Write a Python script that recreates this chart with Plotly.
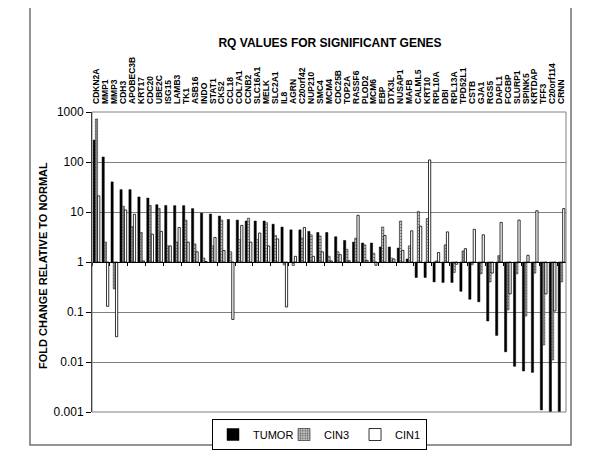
import plotly.graph_objects as go

genes = ["CDKN2A", "MMP1", "MMP3", "CDH3", "APOBEC3B", "KRT17", "CDC20", "UBE2C", "ISG15", "LAMB3",
         "TK1", "ASB16", "INDO", "STAT1", "CKS2", "CCL18", "COL7A1", "CCNB2", "SLC16A1", "MELK",
         "SLC2A1", "IL8", "AGRN", "C20orf42", "NUP210", "SMC4", "MCM4", "CDC25B", "TOP2A", "RASSF6",
         "PLOD2", "MCM6", "EBP", "DTX3L", "NUSAP1", "MAFB", "CALML5", "KRT10", "RPL10A", "DBI",
         "RPL13A", "TPD52L1", "CSTB", "GJA1", "RGS5", "DAPL1", "FCGBP", "SLURP1", "SPINK5", "KRTDAP",
         "TFF3", "C20orf114", "CRNN"]

tumor = [275, 126, 40, 28, 28, 20, 19, 14, 13.5, 13.4,
         13.4, 11.7, 9.5, 9.1, 8.3, 7.1, 6.9, 6.6, 6.6, 6.6,
         5.7, 5.0, 4.4, 4.4, 4.1, 3.9, 3.9, 3.2, 2.7, 2.5,
         2.4, 2.4, 2.0, 2.0, 1.9, 1.15, 0.49, 0.49, 0.40, 0.39,
         0.39, 0.26, 0.18, 0.16, 0.066, 0.034, 0.016, 0.0082, 0.0066, 0.0062,
         0.0011, 0.00098, 0.00098]

cin3 = [725, 2.5, 0.29, 13, 5.1, 3.9, 13.5, 11.8, 2.1, 2.5,
        6.9, 2.3, 1.2, 2.1, 6.9, 1.6, 2.8, 7.5, 2.8, 6.1,
        3.4, 0.87, 0.85, 3.0, 3.5, 3.3, 1.3, 1.6, 1.8, 3.0,
        2.2, 1.5, 5.0, 1.2, 6.6, 2.1, 10.3, 7.4, 1.05, 2.2,
        0.62, 1.66, 0.88, 0.58, 0.4, 1.34, 0.11, 0.58, 0.083, 0.6,
        0.022, 0.011, 0.4]

cin1 = [21, 0.13, 0.032, 11, 9, 1.05, 3.6, 4.1, 2.1, 4.9,
        2.5, 1.6, 1.02, 3.1, 1.7, 0.071, 5.4, 2.5, 3.8, 2.1,
        2.9, 0.126, 1.3, 4.9, 1.3, 1.6, 1.05, 1.4, 1.06, 8.6,
        1.08, 0.86, 3.4, 1.15, 1.7, 4.2, 5.2, 110, 1.55, 4.0,
        0.9, 1.85, 4.5, 3.5, 0.6, 6.2, 0.23, 6.9, 1.36, 10.6,
        0.23, 0.105, 11.7]

series_names = ["TUMOR", "CIN3", "CIN1"]
tick_vals = [0.001, 0.01, 0.1, 1, 10, 100, 1000]
tick_text = ["0.001", "0.01", "0.1", "1", "10", "100", "1000"]
baseline = 1

FONT = "Liberation Sans, Arial, sans-serif"

def rel(vals):
    return [v - baseline for v in vals]

fig = go.Figure()
fig.add_trace(go.Bar(name=series_names[0], x=genes, y=rel(tumor), base=[baseline] * len(genes),
                     marker=dict(color="black", line=dict(color="black", width=0.5)),
                     customdata=tumor, hovertemplate="%{x}: %{customdata}<extra>TUMOR</extra>"))
fig.add_trace(go.Bar(name=series_names[1], x=genes, y=rel(cin3), base=[baseline] * len(genes),
                     marker=dict(color="white", line=dict(color="#222222", width=0.6),
                                 pattern=dict(shape="+", fgcolor="black", bgcolor="white",
                                              size=3, solidity=0.75)),
                     customdata=cin3, hovertemplate="%{x}: %{customdata}<extra>CIN3</extra>"))
fig.add_trace(go.Bar(name=series_names[2], x=genes, y=rel(cin1), base=[baseline] * len(genes),
                     marker=dict(color="white", line=dict(color="black", width=0.8)),
                     customdata=cin1, hovertemplate="%{x}: %{customdata}<extra>CIN1</extra>"))
# carrier for the top category labels
fig.add_trace(go.Scatter(x=genes, y=[baseline] * len(genes), xaxis="x2", mode="none",
                         showlegend=False, hoverinfo="skip"))

fig.update_layout(
    width=600, height=450,
    margin=dict(l=84, r=42, t=104, b=46, autoexpand=False),
    paper_bgcolor="white", plot_bgcolor="white",
    font=dict(family=FONT, color="black"),
    barmode="group", bargap=0.25, bargroupgap=0,
    title=dict(text="<b>RQ VALUES FOR SIGNIFICANT GENES</b>", x=322 / 600, xanchor="center",
               y=1 - 35 / 450, yanchor="middle", font=dict(size=12, family=FONT)),
    xaxis=dict(type="category", range=[-0.5, len(genes) - 0.5], anchor="free", position=0.5,
               showline=True, linecolor="black", linewidth=1, ticks="outside", ticklen=3,
               tickcolor="black", tickson="boundaries", showticklabels=False, showgrid=False,
               zeroline=False, automargin=False),
    xaxis2=dict(type="category", overlaying="x", side="top", range=[-0.5, len(genes) - 0.5],
                tickmode="array", tickvals=genes, ticktext=genes,
                showline=False, ticks="", showgrid=False, tickangle=-90, automargin=False,
                ticklabelstandoff=7,
                tickfont=dict(size=8.5, family=FONT, weight="bold")),
    yaxis=dict(type="log", range=[-3, 3], tickvals=tick_vals, ticktext=tick_text,
               ticks="outside", ticklen=5, tickcolor="black", showline=True, linecolor="black",
               linewidth=1, gridcolor="#808080", gridwidth=1, zeroline=False, automargin=False,
               tickfont=dict(size=12, family=FONT)),
    legend=dict(orientation="h", x=0.48, xanchor="center", y=-0.075, yanchor="middle",
                bordercolor="black", borderwidth=1, font=dict(size=11, family=FONT),
                itemwidth=30, entrywidth=26, entrywidthmode="pixels", tracegroupgap=0),
    annotations=[dict(text="<b>FOLD CHANGE RELATIVE TO NORMAL</b>", xref="paper", yref="paper",
                      x=(43 - 92) / 474, y=(412 - 266) / 300, textangle=-90, showarrow=False,
                      xanchor="center", yanchor="middle", font=dict(size=11, family=FONT))],
    shapes=[
        dict(type="rect", xref="paper", yref="paper", x0=0, x1=1, y0=0, y1=1,
             line=dict(color="#808080", width=1), layer="above"),
        dict(type="rect", xref="paper", yref="paper", x0=(30 - 92) / 474, x1=(571 - 92) / 474,
             y0=(412 - 445) / 300, y1=(412 - 6) / 300, line=dict(color="#707070", width=1.5)),
    ],
)

fig.write_html("out.html")
